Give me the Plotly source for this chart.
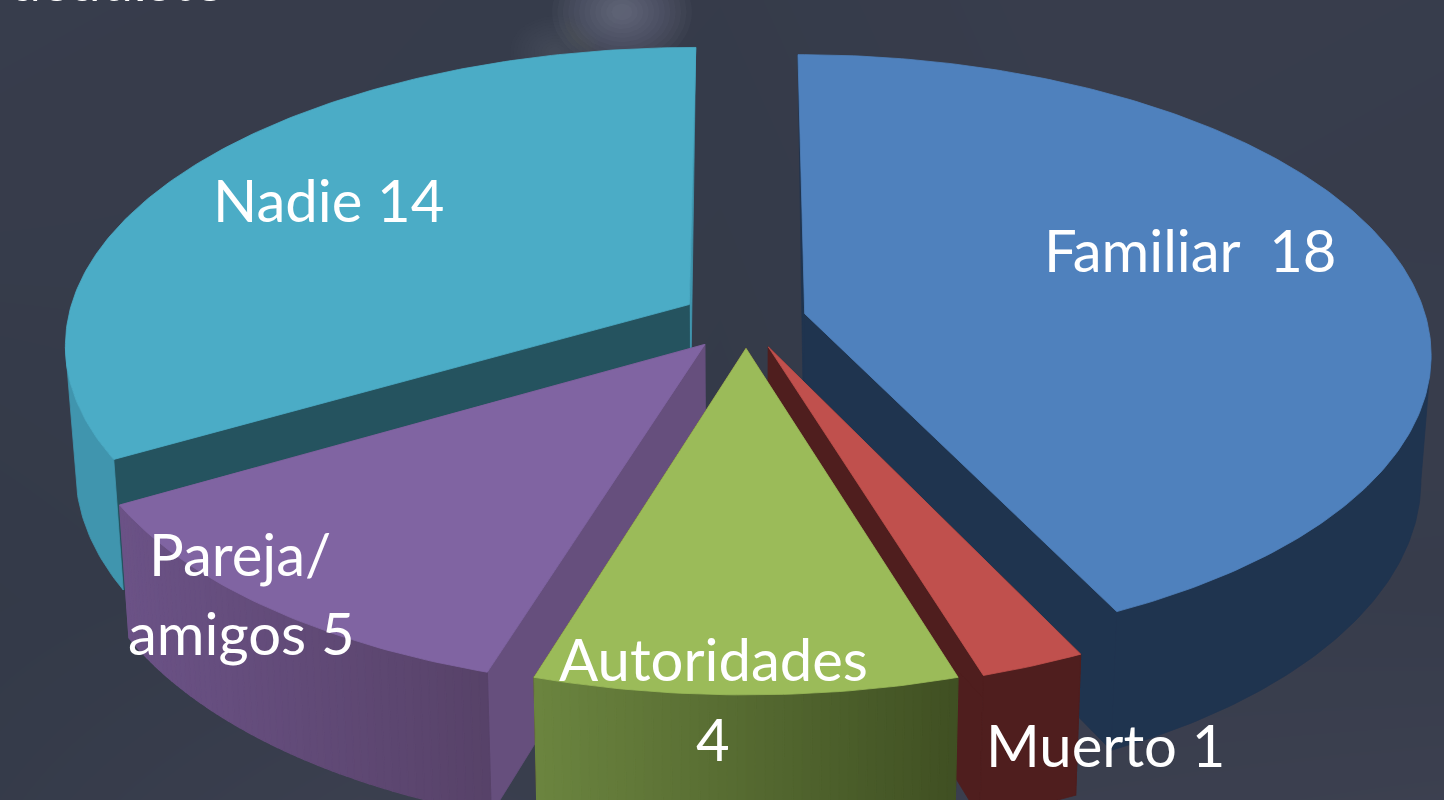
import numpy as np
import plotly.graph_objects as go

# ---- data ----
categories = ["Familiar", "Muerto", "Autoridades", "Pareja/amigos", "Nadie"]
values = [18, 1, 4, 5, 14]
top_colors = ["#4F81BD", "#C0504D", "#9BBB59", "#8064A2", "#4BACC6"]
cut_colors = ["#1F344F", "#4F1E1E", "#4F1E1E", "#664F7D", "#25535F"]
wall_left = ["#1F344F", "#4F1E1E", "#6B843F", "#6B5286", "#4095AE"]
wall_right = ["#1F344F", "#4F1E1E", "#3F4F22", "#574268", "#4095AE"]
explode = [0.097, 0.097, 0.095, 0.105, 0.106]
draw_order = [4, 0, 3, 1, 2]
labels = ["Nadie 14", "Familiar  18", "Pareja/", "amigos 5", "Autoridades", "4", "Muerto 1"]
clipped_title = "acudiste"
bg_x = [0, 360, 720, 1080, 1444]
bg_y = [0, 200, 400, 600, 800]
bg_shade = [[0.42, 0.40, 0.36, 0.44, 0.42],
            [0.40, 0.38, 0.34, 0.42, 0.40],
            [0.34, 0.38, 0.32, 0.42, 0.44],
            [0.30, 0.36, 0.40, 0.42, 0.40],
            [0.36, 0.52, 0.44, 0.52, 0.56]]

# ---- projection ----
CX, CY, RX, RY, K, H = 746, 320, 622, 294, 0.129, 123
BG = "#383D4C"


def project(X, Y, z=0.0):
    s = 1 / (1 + K * Y)
    return CX + X * RX * s * (1 - 0.015 * z), CY - RY * Y * s + H * z * s


def hex_mix(a, b, t):
    ca = [int(a[i:i + 2], 16) for i in (1, 3, 5)]
    cb = [int(b[i:i + 2], 16) for i in (1, 3, 5)]
    return "#%02X%02X%02X" % tuple(round(p + (q - p) * t) for p, q in zip(ca, cb))


def poly(x, y, color, width=0.8):
    return go.Scatter(x=list(x), y=list(y), mode="lines", fill="toself", fillcolor=color,
                      line=dict(color=color, width=width), hoverinfo="skip", showlegend=False)


fig = go.Figure()
fig.add_trace(go.Heatmap(x=bg_x, y=bg_y, z=bg_shade, zmin=0, zmax=1, zsmooth="best", showscale=False,
                         colorscale=[[0, "#2A3340"], [1, "#4A4A5C"]], hoverinfo="skip"))

# soft glow at the top, behind the pie
ring = np.linspace(0, 2 * np.pi, 60)
for gx, gy, rmax, alpha in [(622, 12, 70, 0.03), (555, 52, 45, 0.012)]:
    for r in np.linspace(rmax, rmax * 0.15, 12):
        fig.add_trace(go.Scatter(x=gx + r * np.cos(ring), y=gy + 0.8 * r * np.sin(ring), mode="lines",
                                 fill="toself", fillcolor="rgba(200,204,212,%g)" % alpha, line=dict(width=0),
                                 hoverinfo="skip", showlegend=False))

total = sum(values)
edges = np.cumsum([0] + values) / total * 2 * np.pi

for i in draw_order:
    a0, a1 = edges[i], edges[i + 1]
    mid = (a0 + a1) / 2
    ex, ey = explode[i] * np.sin(mid), explode[i] * np.cos(mid)
    th = np.linspace(a0, a1, max(int((a1 - a0) * 80), 8))
    X, Y = ex + np.sin(th), ey + np.cos(th)
    ax, ay = project(ex, ey)
    bx, by = project(ex, ey, 1)
    tx, ty = project(X, Y)
    wx, wy = project(X, Y, 1)
    if i == 4:
        # thin lit edge at 360 degrees, tapering to the rim
        fig.add_trace(poly([ax, tx[-1], bx, ax], [ay, ty[-1], by, ay], wall_left[i]))
        fig.add_trace(poly([ax, tx[0], wx[0], bx, ax], [ay, ty[0], wy[0], by, ay], cut_colors[i]))
    elif i == 0:
        fig.add_trace(poly([ax, tx[0], bx, ax], [ay, ty[0], by, ay], cut_colors[i]))
        fig.add_trace(poly([ax, tx[-1], wx[-1], bx, ax], [ay, ty[-1], wy[-1], by, ay], cut_colors[i]))
    else:
        for n in (-1, 0):
            fig.add_trace(poly([ax, tx[n], wx[n], bx, ax], [ay, ty[n], wy[n], by, ay], cut_colors[i]))
    # outer wall: only the rim that faces the viewer
    if wall_left[i] == wall_right[i]:
        lo = int(np.argmax(tx)) if i == 0 else 0
        hi = int(np.argmin(tx)) + 1 if i == 4 else len(th)
        fig.add_trace(poly(list(tx[lo:hi]) + list(wx[lo:hi][::-1]) + [tx[lo]],
                           list(ty[lo:hi]) + list(wy[lo:hi][::-1]) + [ty[lo]], wall_left[i]))
    else:
        span = tx.max() - tx.min()
        for j in range(len(th) - 1):
            c = hex_mix(wall_left[i], wall_right[i], (min(tx[j], tx[j + 1]) - tx.min()) / span)
            fig.add_trace(poly([tx[j], tx[j + 1], wx[j + 1], wx[j], tx[j]],
                               [ty[j], ty[j + 1], wy[j + 1], wy[j], ty[j]], c, 1.2))
    # top face
    fig.add_trace(poly([ax] + list(tx) + [ax], [ay] + list(ty) + [ay], top_colors[i]))

FONT = dict(family="Lato, Open Sans, sans-serif", size=58, color="#FFFFFF")
label_pos = [(328, 199), (1190, 249), (240, 553), (241, 632), (713, 658), (713, 738), (1105, 744)]
anns = [dict(x=x, y=y, text=t, xref="x", yref="y", showarrow=False, xanchor="center", yanchor="middle", font=FONT)
        for t, (x, y) in zip(labels, label_pos)]
# the title line runs off the top of the frame: only the feet of its letters remain
anns.append(dict(x=118 / 1444, y=1, xref="paper", yref="paper", yshift=22, text=clipped_title, showarrow=False,
                 xanchor="center", yanchor="middle", font=FONT))

fig.update_layout(width=1444, height=800, margin=dict(l=0, r=0, t=0, b=0), paper_bgcolor=BG, plot_bgcolor=BG,
                  showlegend=False, annotations=anns,
                  xaxis=dict(range=[0, 1444], visible=False, fixedrange=True),
                  yaxis=dict(range=[800, 0], visible=False, fixedrange=True))
fig.write_html("out.html", config=dict(displayModeBar=False),
               post_script="document.body.style.margin='0';document.body.style.background='%s';document.body.style.overflow='hidden';" % BG)
